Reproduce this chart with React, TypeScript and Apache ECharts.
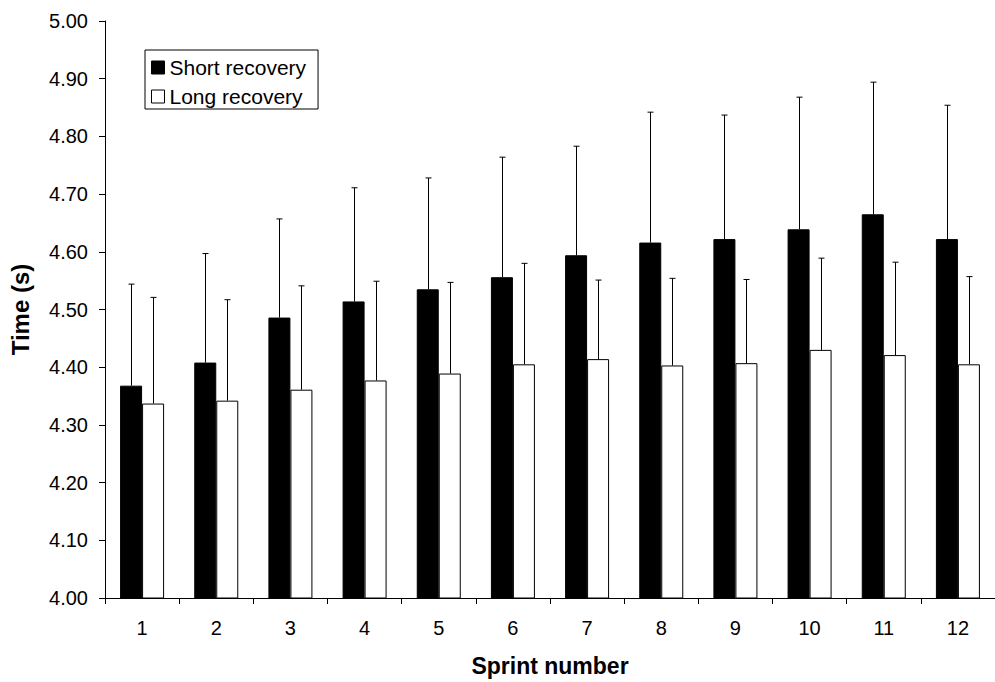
import React, { useEffect, useRef } from "react";
import * as echarts from "echarts";

const categories = ["1", "2", "3", "4", "5", "6", "7", "8", "9", "10", "11", "12"];
const shortMean = [4.368, 4.408, 4.486, 4.514, 4.535, 4.556, 4.594, 4.616, 4.622, 4.639, 4.665, 4.622];
const shortSD = [0.176, 0.189, 0.171, 0.197, 0.193, 0.208, 0.189, 0.226, 0.215, 0.229, 0.229, 0.232];
const longMean = [4.337, 4.342, 4.361, 4.377, 4.389, 4.405, 4.414, 4.403, 4.407, 4.43, 4.421, 4.405];
const longSD = [0.184, 0.175, 0.18, 0.172, 0.158, 0.175, 0.137, 0.151, 0.145, 0.159, 0.161, 0.152];

const FONT = "'Liberation Sans', Arial, sans-serif";
const BAR_WIDTH = 22;

function errorSeries(name: string, means: number[], sds: number[], offset: number) {
  return {
    name: name + " SD",
    type: "custom",
    z: 5,
    silent: true,
    data: means.map((m, i) => [i, m, m + sds[i]]),
    encode: { x: 0, y: [1, 2] },
    renderItem: (params: any, api: any) => {
      const idx = api.value(0);
      const base = api.coord([idx, api.value(1)]);
      const top = api.coord([idx, api.value(2)]);
      const x = Math.round(base[0] + offset) + 0.5;
      const style = { stroke: "#000", lineWidth: 1 };
      return {
        type: "group",
        children: [
          { type: "line", shape: { x1: x, y1: base[1], x2: x, y2: top[1] }, style },
          { type: "line", shape: { x1: x - 3, y1: top[1], x2: x + 3, y2: top[1] }, style },
        ],
      };
    },
  };
}

export default function App() {
  const ref = useRef<HTMLDivElement>(null);
  useEffect(() => {
    if (!ref.current) return;
    const chart = echarts.init(ref.current, undefined, { renderer: "svg" });
    chart.setOption({
      animation: false,
      backgroundColor: "#fff",
      textStyle: { fontFamily: FONT },
      grid: { left: 105, right: -6, top: 21, bottom: 84, containLabel: false },
      legend: {
        data: ["Short recovery", "Long recovery"],
        orient: "vertical",
        left: 145,
        top: 50,
        icon: "rect",
        borderColor: "#000",
        borderWidth: 1,
        padding: [7, 12, 2, 6],
        itemGap: 8,
        itemWidth: 13,
        itemHeight: 13,
        itemStyle: { borderWidth: 1 },
        textStyle: { fontFamily: FONT, fontSize: 21, color: "#000" },
        selectedMode: false,
      },
      xAxis: {
        type: "category",
        data: categories,
        name: "Sprint number",
        nameLocation: "middle",
        nameGap: 56,
        nameTextStyle: { fontFamily: FONT, fontSize: 23, fontWeight: "bold", color: "#000" },
        axisLine: { lineStyle: { color: "#000", width: 1 } },
        axisTick: { show: true, length: 6, lineStyle: { color: "#000" } },
        axisLabel: { fontFamily: FONT, fontSize: 20, color: "#000", margin: 20 },
        splitLine: { show: false },
      },
      yAxis: {
        type: "value",
        min: 4,
        max: 5,
        interval: 0.1,
        name: "Time (s)",
        nameLocation: "middle",
        nameGap: 73,
        nameTextStyle: { fontFamily: FONT, fontSize: 24, fontWeight: "bold", color: "#000" },
        axisLine: { show: true, lineStyle: { color: "#000", width: 1 } },
        axisTick: { show: true, length: 6, lineStyle: { color: "#000" } },
        axisLabel: {
          fontFamily: FONT,
          fontSize: 20,
          color: "#000",
          margin: 17,
          formatter: (v: number) => v.toFixed(2),
        },
        splitLine: { show: false },
      },
      series: [
        {
          name: "Short recovery",
          type: "bar",
          data: shortMean,
          barWidth: BAR_WIDTH,
          barGap: "0%",
          itemStyle: { color: "#000", borderColor: "#000", borderWidth: 1 },
        },
        {
          name: "Long recovery",
          type: "bar",
          data: longMean,
          barWidth: BAR_WIDTH,
          barGap: "0%",
          itemStyle: { color: "#fff", borderColor: "#000", borderWidth: 1 },
        },
        errorSeries("Short recovery", shortMean, shortSD, -BAR_WIDTH / 2),
        errorSeries("Long recovery", longMean, longSD, BAR_WIDTH / 2),
      ],
    });
    return () => chart.dispose();
  }, []);
  return (
    <div
      ref={ref}
      style={{ position: "fixed", left: 0, top: 0, width: 995, height: 682, background: "#fff" }}
    />
  );
}
